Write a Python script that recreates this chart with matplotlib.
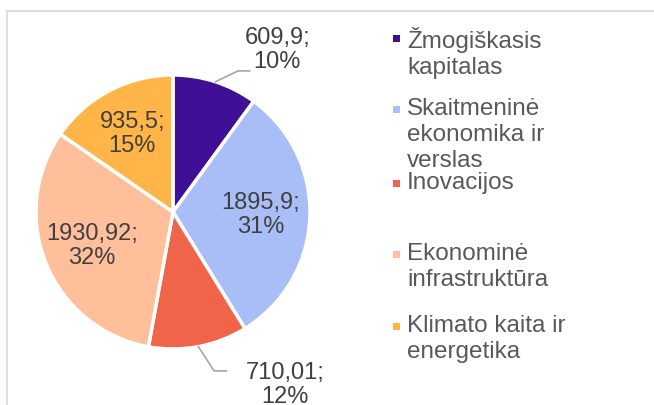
import matplotlib
matplotlib.use("Agg")
import matplotlib.pyplot as plt
import numpy as np
from matplotlib.patches import Rectangle
from matplotlib.lines import Line2D

plt.rcParams['font.family'] = ['Liberation Sans', 'DejaVu Sans']

# data
categories = ["Žmogiškasis\nkapitalas", "Skaitmeninė\nekonomika ir\nverslas",
              "Inovacijos", "Ekonominė\ninfrastruktūra", "Klimato kaita ir\nenergetika"]
values = [609.9, 1895.9, 710.01, 1930.92, 935.5]
colors = ["#3F0F96", "#A9BEF7", "#F0654A", "#FFBF9B", "#FFB547"]

# layout: outside labels (index -> text pos, elbow pos, end pos), in pie radius units
outside = {0: ((0.76, 1.18), (0.475, 1.03), (0.56, 1.03)),
           2: ((0.82, -1.26), (0.30, -1.16), (0.39, -1.16))}
legend_y = [38, 109, 183, 254, 326]   # pixel rows of first legend line

W, H = 654, 405
fig = plt.figure(figsize=(W / 100, H / 100), dpi=100)

# chart border (left and top visible)
fig.add_artist(Rectangle((7 / W, -0.1), 2, 1.1 - 11 / H, transform=fig.transFigure,
                         fill=False, edgecolor="#D9D9D9", linewidth=1.3))

cx, cy, r = 173, 212, 137
ax = fig.add_axes([(cx - r) / W, (H - cy - r) / H, 2 * r / W, 2 * r / H])

wedges, _ = ax.pie(values, colors=colors, startangle=90, counterclock=False,
                   radius=1, wedgeprops=dict(edgecolor="white", linewidth=2.5))
ax.set_xlim(-1, 1)
ax.set_ylim(-1, 1)
ax.axis("off")

total = sum(values)
fs = 17
for i, (w, v) in enumerate(zip(wedges, values)):
    txt = f"{str(v).replace('.', ',')};\n{round(v / total * 100)}%"
    ang = np.deg2rad((w.theta1 + w.theta2) / 2)
    if i in outside:
        tpos, elbow, end = outside[i]
        ex, ey = np.cos(ang), np.sin(ang)
        ax.add_line(Line2D([ex, elbow[0], end[0]], [ey, elbow[1], end[1]],
                           color="#A6A6A6", linewidth=1.2, clip_on=False))
        ax.text(tpos[0], tpos[1], txt, ha="center", va="center", fontsize=fs,
                color="#404040", clip_on=False, linespacing=1.12)
    else:
        d = 0.64
        ax.text(d * np.cos(ang), d * np.sin(ang), txt, ha="center", va="center",
                fontsize=fs, color="#404040", linespacing=1.12)

# legend
for lab, col, y in zip(categories, colors, legend_y):
    fig.add_artist(Rectangle((393 / W, (H - y - 3.5) / H), 7 / W, 7 / H,
                             transform=fig.transFigure, facecolor=col, edgecolor="none"))
    fig.text(407 / W, (H - y + 11) / H, lab, ha="left", va="top", fontsize=17.5,
             color="#595959", linespacing=1.24)

fig.savefig("out.png", dpi=100)
